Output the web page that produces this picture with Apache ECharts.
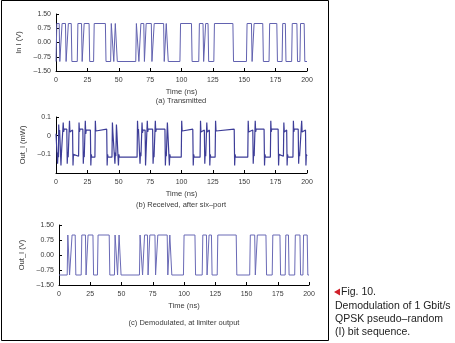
<!DOCTYPE html>
<html>
<head>
<meta charset="utf-8">
<script src="https://cdn.jsdelivr.net/npm/echarts@6/dist/echarts.min.js"></script>
<style>
  html, body { margin: 0; padding: 0; background: #fff; }
  #chart { width: 455px; height: 343px; }
</style>
</head>
<body>
<div id="chart"></div>
<script>
// Axis ticks
const timeTicks = [0, 25, 50, 75, 100, 125, 150, 175, 200];
const voltTicks = [-1.5, -0.75, 0, 0.75, 1.5];
const rxTicks = [-0.2, -0.1, 0, 0.1];

// Transmitted I channel: starting level (V) and switching instants (ns);
// every edge toggles between +1 V and -1 V.
const txStartLevel = -1;
const txEdges = [0.4, 2.8, 4.6, 7.8, 9.6, 12.4, 17.2, 20.6, 22.2, 26.6,
  30.2, 39.6, 43.8, 45.8, 47, 48.6, 63.8, 65.8, 67.4, 70.2,
  71.6, 76.2, 78, 86, 87.6, 89.2, 99, 108.2, 114, 117.4,
  119, 121.4, 126, 141.2, 152, 156, 157.6, 165, 170, 176.2,
  180.4, 183, 188, 192.2, 194.6, 198];

// Received six-port output: [edge time (ns), overshoot, ringing, settled level] (mW)
const rxStartLevel = 0.01;
const rxEdges = [
  [0.9, -0.15, -0.09, -0.115], [1.8, 0.06, 0.01, 0.03], [3.6, -0.16, -0.10, -0.11],
  [5.4, 0.07, 0.02, 0.035], [8.6, -0.15, -0.09, -0.115], [10.4, 0.08, 0.02, 0.03],
  [13.2, -0.16, -0.10, -0.11], [18.0, 0.07, 0.02, 0.035], [21.4, -0.15, -0.09, -0.115],
  [23.0, 0.08, 0.01, 0.03], [27.4, -0.16, -0.10, -0.115], [31.0, 0.08, 0.025, 0.035],
  [40.4, -0.16, -0.10, -0.115], [44.6, 0.07, 0.02, 0.03], [46.6, -0.15, -0.09, -0.11],
  [47.8, 0.06, 0.02, 0.03], [49.4, -0.16, -0.10, -0.115], [64.6, 0.08, 0.02, 0.035],
  [66.6, -0.15, -0.09, -0.11], [68.2, 0.07, 0.015, 0.03], [71.0, -0.16, -0.10, -0.11],
  [72.4, 0.08, 0.02, 0.035], [77.0, -0.15, -0.10, -0.115], [78.8, 0.08, 0.02, 0.035],
  [86.8, -0.16, -0.09, -0.11], [88.4, 0.07, 0.02, 0.03], [90.0, -0.16, -0.10, -0.115],
  [99.8, 0.08, 0.025, 0.035], [109.0, -0.16, -0.10, -0.115], [114.8, 0.08, 0.02, 0.03],
  [118.2, -0.15, -0.09, -0.11], [119.8, 0.07, 0.02, 0.03], [122.2, -0.16, -0.10, -0.115],
  [126.8, 0.08, 0.025, 0.035], [142.0, -0.16, -0.10, -0.115], [152.8, 0.08, 0.02, 0.03],
  [156.8, -0.15, -0.09, -0.11], [158.4, 0.08, 0.02, 0.035], [165.8, -0.16, -0.10, -0.115],
  [170.8, 0.08, 0.02, 0.035], [177.0, -0.16, -0.10, -0.11], [181.2, 0.07, 0.02, 0.03],
  [183.8, -0.16, -0.10, -0.115], [188.8, 0.08, 0.02, 0.035], [193.0, -0.15, -0.09, -0.11],
  [195.4, 0.08, 0.02, 0.03], [198.8, -0.16, -0.10, -0.11]
];

// Demodulated I channel at the limiter output: starting level (V) and edges (ns)
const demodStartLevel = -1;
const demodEdges = [6.8, 8.2, 10.2, 13.2, 18, 21.4, 23, 27.4, 31, 40.4,
  44.6, 46.6, 47.8, 49.4, 64.6, 66.6, 68.2, 71, 72.4, 77,
  78.8, 86.8, 88.4, 90, 99.8, 109, 114.8, 118.2, 119.8, 122.2,
  126.8, 142, 152.8, 156.8, 158.4, 165.8, 170.8, 177, 181.2, 183.8,
  188.8, 193, 195.4, 198.8];

// Build a two-level waveform with a short rise/fall time around each edge
function squareWave(start, edges, rise) {
  const pts = [[0, start]];
  let lvl = start;
  edges.forEach(t => {
    pts.push([t - rise / 2, lvl]);
    lvl = -lvl;
    pts.push([t + rise / 2, lvl]);
  });
  pts.push([200, lvl]);
  return pts;
}

function receivedWave(start, edges) {
  const pts = [[0, start]];
  let lvl = start;
  edges.forEach(([t, peak, ring, settle]) => {
    pts.push([t, lvl]);
    pts.push([t + 0.35, peak]);
    pts.push([t + 0.7, ring]);
    pts.push([t + 1.1, settle]);
    lvl = settle;
  });
  pts.push([200, lvl]);
  return pts;
}

const FONT = 'Liberation Sans';
const TXT = '#3a3a3a';

function xAxisFor(gridIndex) {
  return {
    type: 'value', gridIndex, min: 0, max: 200, interval: 25,
    name: 'Time (ns)', nameLocation: 'middle', nameGap: 17,
    nameTextStyle: { fontFamily: FONT, fontSize: 7.5, color: TXT },
    axisLine: { onZero: false, lineStyle: { color: '#000', width: 1 } },
    axisTick: { inside: true, length: 3, lineStyle: { color: '#000' } },
    axisLabel: { fontFamily: FONT, fontSize: 7, color: TXT, margin: 6 },
    splitLine: { show: false }
  };
}

function yAxisFor(gridIndex, name, min, max, interval, fmt) {
  return {
    type: 'value', gridIndex, min, max, interval,
    name, nameLocation: 'middle', nameGap: 27, nameRotate: 90,
    nameTextStyle: { fontFamily: FONT, fontSize: 7.5, color: TXT },
    axisLine: { show: true, onZero: false, lineStyle: { color: '#000', width: 1 } },
    axisTick: { show: true, inside: true, length: 3, lineStyle: { color: '#000' } },
    axisLabel: { fontFamily: FONT, fontSize: 7, color: TXT, margin: 5, formatter: fmt },
    splitLine: { show: false }
  };
}

const voltFmt = v => (v < 0 ? '\u2013' + Math.abs(v).toFixed(2) : v.toFixed(2));
const rxFmt = v => {
  if (Math.abs(v + 0.2) < 1e-6) return '';
  if (Math.abs(v) < 1e-6) return '0';
  return v < 0 ? '\u2013' + Math.abs(v).toFixed(1) : v.toFixed(1);
};

const chart = echarts.init(document.getElementById('chart'), null, { renderer: 'canvas' });

chart.setOption({
  animation: false,
  backgroundColor: '#fff',
  grid: [
    { left: 56, top: 14, width: 251, height: 57, outerBoundsMode: 'none' },
    { left: 56, top: 117, width: 251, height: 56, outerBoundsMode: 'none' },
    { left: 59, top: 225, width: 250, height: 60, outerBoundsMode: 'none' }
  ],
  xAxis: [xAxisFor(0), xAxisFor(1), xAxisFor(2)],
  yAxis: [
    yAxisFor(0, 'In I (V)', voltTicks[0], voltTicks[4], 0.75, voltFmt),
    yAxisFor(1, 'Out_I (mW)', rxTicks[0], rxTicks[3], 0.1, rxFmt),
    yAxisFor(2, 'Out_I (V)', voltTicks[0], voltTicks[4], 0.75, voltFmt)
  ],
  series: [
    {
      type: 'line', xAxisIndex: 0, yAxisIndex: 0, showSymbol: false,
      data: squareWave(txStartLevel, txEdges, 0.5),
      lineStyle: { color: '#6262b0', width: 1 }
    },
    {
      type: 'line', xAxisIndex: 1, yAxisIndex: 1, showSymbol: false,
      data: receivedWave(rxStartLevel, rxEdges),
      lineStyle: { color: '#3d3d98', width: 1.2 }
    },
    {
      type: 'line', xAxisIndex: 2, yAxisIndex: 2, showSymbol: false,
      data: squareWave(demodStartLevel, demodEdges, 0.5),
      lineStyle: { color: '#6a6ab6', width: 1 }
    }
  ],
  graphic: [
    { type: 'rect', shape: { x: 1.5, y: 0.5, width: 327, height: 340 },
      style: { fill: 'none', stroke: '#000', lineWidth: 1 } },
    { type: 'text', x: 181, y: 101, style: { text: '(a) Transmitted', fontFamily: FONT,
      fontSize: 7.5, fill: TXT, align: 'center', verticalAlign: 'middle' } },
    { type: 'text', x: 181, y: 205, style: { text: '(b) Received, after six\u2013port', fontFamily: FONT,
      fontSize: 7.5, fill: TXT, align: 'center', verticalAlign: 'middle' } },
    { type: 'text', x: 184, y: 323, style: { text: '(c) Demodulated, at limiter output', fontFamily: FONT,
      fontSize: 7.5, fill: TXT, align: 'center', verticalAlign: 'middle' } },
    { type: 'polygon', shape: { points: [[334, 292], [340, 288.5], [340, 295.5]] },
      style: { fill: '#d0202a' } },
    { type: 'text', x: 341, y: 292, style: { text: 'Fig. 10.', fontFamily: 'Liberation Sans Narrow, Liberation Sans',
      fontSize: 10.5, fill: '#222', verticalAlign: 'middle' } },
    { type: 'text', x: 335, y: 306, style: { text: 'Demodulation of 1 Gbit/s', fontFamily: 'Liberation Sans Narrow, Liberation Sans',
      fontSize: 10.5, fill: '#222', verticalAlign: 'middle' } },
    { type: 'text', x: 335, y: 319, style: { text: 'QPSK pseudo\u2013random', fontFamily: 'Liberation Sans Narrow, Liberation Sans',
      fontSize: 10.5, fill: '#222', verticalAlign: 'middle' } },
    { type: 'text', x: 335, y: 332, style: { text: '(I) bit sequence.', fontFamily: 'Liberation Sans Narrow, Liberation Sans',
      fontSize: 10.5, fill: '#222', verticalAlign: 'middle' } }
  ]
});
</script>
</body>
</html>
